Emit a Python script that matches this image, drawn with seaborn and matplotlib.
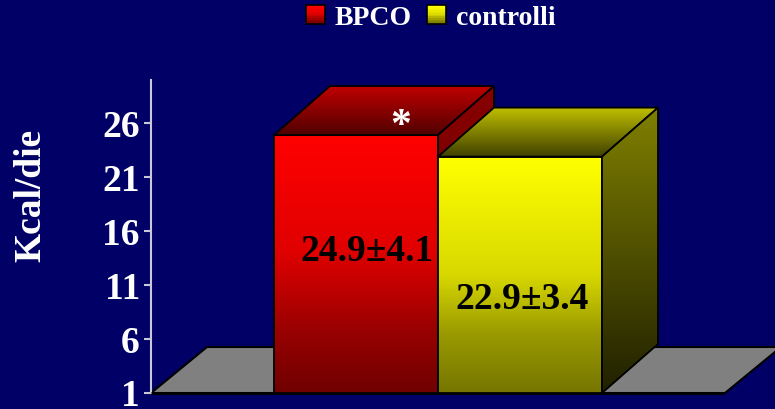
import numpy as np
import matplotlib
matplotlib.use("Agg")
import matplotlib.pyplot as plt
import seaborn as sns
from matplotlib.patches import Polygon, Rectangle, Patch
from matplotlib.legend_handler import HandlerBase
from matplotlib.colors import to_rgb

# --- data -------------------------------------------------------------
groups = ["BPCO", "controlli"]
kcal = [24.9, 22.9]
kcal_sd = [4.1, 3.4]
significant = [True, False]
yticks = [1, 6, 11, 16, 21, 26]
ylabel = "Kcal/die"

# --- style ------------------------------------------------------------
sns.set_theme(style="white")
plt.rcParams["font.family"] = ["Liberation Serif", "DejaVu Serif"]
plt.rcParams["font.weight"] = "bold"

BG = "#000066"
W, H = 775, 409

# colour ramps (top -> bottom) for the faces of each box
front_stops = {
    "BPCO": [(0.0, "#ff0000"), (0.45, "#e00000"), (0.76, "#990000"), (1.0, "#700000")],
    "controlli": [(0.0, "#ffff00"), (0.5, "#d8d800"), (0.75, "#9a9a00"), (1.0, "#757500")],
}
top_stops = {
    "BPCO": [(0.0, "#c00000"), (1.0, "#500000")],
    "controlli": [(0.0, "#c0c000"), (1.0, "#404000")],
}
side_stops = {
    "BPCO": [(0.0, "#880000"), (1.0, "#600000")],
    "controlli": [(0.0, "#808000"), (1.0, "#202000")],
}
palette = {"BPCO": "#ff0000", "controlli": "#ffff00"}


def ramp(stops, n=256):
    t = np.linspace(0, 1, n)
    pos = [s[0] for s in stops]
    rgb = np.array([to_rgb(s[1]) for s in stops])
    return np.stack([np.interp(t, pos, rgb[:, k]) for k in range(3)], axis=1)


fig = plt.figure(figsize=(W / 100, H / 100), dpi=100, facecolor=BG)
ax = fig.add_axes([151 / W, 16 / H, 624 / W, 313 / H])
ax.set_facecolor(BG)

sns.barplot(x=groups, y=kcal, hue=groups, palette=palette, width=1.0,
            saturation=1, legend=False, ax=ax)

XLIM = (-1.25, -1.25 + 624 / 164)
YLIM = (1, 30)
ax.set_xlim(XLIM)
ax.set_ylim(YLIM)
px_x = 624 / (XLIM[1] - XLIM[0])
px_y = 313 / (YLIM[1] - YLIM[0])


def depth(dx_px, dy_px):
    return dx_px / px_x, dy_px / px_y


def gradient_face(xy, stops, z):
    poly = Polygon(xy, closed=True, facecolor="none", edgecolor="black",
                   lw=1.3, zorder=z + 0.05, joinstyle="miter")
    ax.add_patch(poly)
    xs, ys = zip(*xy)
    img = ramp(stops)[:, None, :]
    im = ax.imshow(img, extent=(min(xs), max(xs), min(ys), max(ys)),
                   origin="upper", aspect="auto", interpolation="bilinear",
                   zorder=z)
    im.set_clip_path(poly)
    return poly


bars = sorted(ax.patches, key=lambda p: p.get_x())
base = YLIM[0]

# floor under the boxes
fdx, fdy = depth(56, 46)
f_left = bars[0].get_x() - 0.75
f_right = bars[-1].get_x() + bars[-1].get_width() + 0.75
ax.add_patch(Polygon([(f_left, base), (f_right, base),
                      (f_right + fdx, base + fdy), (f_left + fdx, base + fdy)],
                     closed=True, facecolor="#808080", edgecolor="black",
                     lw=1.5, zorder=1))

bdx, bdy = depth(56, 49)
for i, (bar, g, m, s, sig) in enumerate(zip(bars, groups, kcal, kcal_sd, significant)):
    z = 2 + i
    x0 = bar.get_x()
    x1 = x0 + bar.get_width()
    h = bar.get_height()
    # front face: the seaborn bar with a vertical colour ramp
    bar.set_facecolor("none")
    bar.set_edgecolor("black")
    bar.set_linewidth(1.3)
    bar.set_zorder(z + 0.05)
    im = ax.imshow(ramp(front_stops[g])[:, None, :], extent=(x0, x1, base, h),
                   origin="upper", aspect="auto", interpolation="bilinear", zorder=z)
    im.set_clip_path(bar)
    # top and side faces
    gradient_face([(x0, h), (x1, h), (x1 + bdx, h + bdy), (x0 + bdx, h + bdy)],
                  top_stops[g], z + 0.1)
    gradient_face([(x1, base), (x1, h), (x1 + bdx, h + bdy), (x1 + bdx, base + bdy)],
                  side_stops[g], z + 0.2)
    cx = x0 + bar.get_width() / 2
    ax.text(cx + (0.065 if i == 0 else 0.01), m * (0.565 if i == 0 else 0.42),
            f"{m:.1f}±{s:.1f}", ha="center", va="center", fontsize=27,
            fontweight="bold", color="black", zorder=10)
    if sig:
        ax.text(cx + 0.27, m - 0.15, "*", ha="center", va="baseline",
                fontsize=30, fontweight="bold", color="white", zorder=10)

ax.set_xlim(XLIM)
ax.set_ylim(YLIM)

# front edge of the floor
ax.plot([f_left, f_right], [base, base], color="black", lw=2, zorder=6,
        clip_on=False, solid_capstyle="butt")

# axes
for side in ["top", "right", "bottom"]:
    ax.spines[side].set_visible(False)
ax.spines["left"].set_color("#c8c8d8")
ax.spines["left"].set_linewidth(1.5)
ax.set_xticks([])
ax.set_xlabel("")
ax.set_ylabel("")
ax.set_yticks(yticks)
ax.set_yticklabels([str(t) for t in yticks])
ax.tick_params(axis="y", left=True, colors="#c8c8d8", labelcolor="white",
               length=5, width=1.5, pad=3, labelsize=27, direction="out")
for lab in ax.get_yticklabels():
    lab.set_fontweight("bold")

fig.text(31 / W, 1 - 195 / H, ylabel, rotation=90, ha="center", va="center",
         fontsize=27, fontweight="bold", color="white")


# legend with shaded squares
class ShadedSquare(HandlerBase):
    def __init__(self, stops):
        super().__init__()
        self.stops = stops

    def create_artists(self, legend, orig_handle, xdescent, ydescent,
                       width, height, fontsize, trans):
        size = min(width, height)
        x = -xdescent + (width - size) / 2
        y = -ydescent + (height - size) / 2
        cols = ramp(self.stops, 12)
        n = len(cols)
        arts = []
        for k, c in enumerate(cols):
            arts.append(Rectangle((x, y + size * (n - 1 - k) / n), size, size / n,
                                  facecolor=c, edgecolor="none", transform=trans))
        arts.append(Rectangle((x, y), size, size, facecolor="none",
                              edgecolor="black", lw=1.2, transform=trans))
        return arts


handles = [Patch(facecolor=palette[g], label=g) for g in groups]
hmap = {h: ShadedSquare(front_stops[g]) for h, g in zip(handles, groups)}
fig.legend(handles=handles, labels=groups, handler_map=hmap, loc="center",
           bbox_to_anchor=(431 / W, 1 - 18 / H), ncol=2, frameon=False,
           prop={"family": ["Liberation Serif"], "weight": "bold", "size": 20},
           labelcolor="white", handlelength=0.68, handleheight=0.68,
           handletextpad=0.35, columnspacing=0.55, borderaxespad=0)

fig.savefig("out.png", dpi=100, facecolor=BG)
